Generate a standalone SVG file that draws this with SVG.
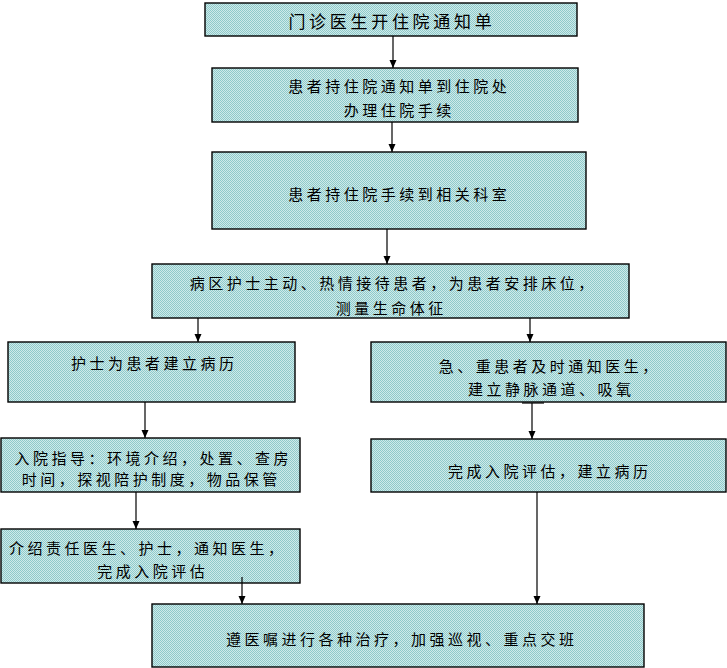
<svg xmlns="http://www.w3.org/2000/svg" width="727" height="668" viewBox="0 0 727 668">
<style>
.box{fill:url(#dots);stroke:#000;stroke-width:1.4}
.t{font-family:"Noto Sans CJK SC","Noto Sans CJK JP",sans-serif;font-size:15px;letter-spacing:3.5px;text-anchor:middle;dominant-baseline:central;fill:#000}
.title{font-size:17px;letter-spacing:3.7px}
.c{stroke:#000;stroke-width:1.2;fill:none}
</style>
<defs>
<pattern id="dots" patternUnits="userSpaceOnUse" width="2" height="2">
<rect width="2" height="2" fill="#cfeaea"/>
<rect width="1" height="1" fill="#8fcaca"/>
<rect x="1" y="1" width="1" height="1" fill="#8fcaca"/>
</pattern>
<marker id="ah" markerUnits="userSpaceOnUse" markerWidth="9" markerHeight="8" refX="8" refY="3.5" orient="auto">
<path d="M0,0 L8,3.5 L0,7 z" fill="#000"/>
</marker>
</defs>
<rect width="727" height="668" fill="#fff"/>
<g id="connectors">
<line class="c" x1="393" y1="36" x2="393" y2="68" marker-end="url(#ah)"/>
<line class="c" x1="392" y1="122" x2="392" y2="152" marker-end="url(#ah)"/>
<line class="c" x1="387" y1="229" x2="387" y2="264" marker-end="url(#ah)"/>
<line class="c" x1="198" y1="318" x2="198" y2="342" marker-end="url(#ah)"/>
<line class="c" x1="530" y1="318" x2="530" y2="342" marker-end="url(#ah)"/>
<line class="c" x1="145" y1="402" x2="145" y2="438" marker-end="url(#ah)"/>
<line class="c" x1="532" y1="403" x2="532" y2="439" marker-end="url(#ah)"/>
<line class="c" x1="522" y1="403" x2="544" y2="403" stroke-width="2"/>
<line class="c" x1="136" y1="492" x2="136" y2="529" marker-end="url(#ah)"/>
<line class="c" x1="242" y1="577" x2="242" y2="604" marker-end="url(#ah)"/>
<line class="c" x1="537" y1="492" x2="537" y2="604" marker-end="url(#ah)"/>
</g>
<g id="n1"><rect class="box" x="205" y="3" width="372" height="33"/>
<text class="t title" x="391.9" y="20">门诊医生开住院通知单</text></g>
<g id="n2"><rect class="box" x="212" y="68" width="366" height="54"/>
<text class="t" x="399.2" y="85">患者持住院通知单到住院处</text>
<text class="t" x="399.2" y="109.5">办理住院手续</text></g>
<g id="n3"><rect class="box" x="212" y="152" width="374" height="77"/>
<text class="t" x="399.2" y="193">患者持住院手续到相关科室</text></g>
<g id="n4"><rect class="box" x="152" y="264" width="477" height="54"/>
<text class="t" x="393.2" y="282">病区护士主动、热情接待患者，为患者安排床位，</text>
<text class="t" x="391.2" y="307">测量生命体征</text></g>
<g id="n5"><rect class="box" x="8" y="342" width="287" height="60"/>
<text class="t" x="154.2" y="362">护士为患者建立病历</text></g>
<g id="n6"><rect class="box" x="371" y="342" width="355" height="60"/>
<text class="t" x="549.7" y="365">急、重患者及时通知医生，</text>
<text class="t" x="551.2" y="388">建立静脉通道、吸氧</text></g>
<g id="n7"><rect class="box" x="1" y="438" width="299" height="54"/>
<text class="t" x="153.2" y="457">入院指导：环境介绍，处置、查房</text>
<text class="t" x="151.2" y="478">时间，探视陪护制度，物品保管</text></g>
<g id="n8"><rect class="box" x="371" y="439" width="355" height="53"/>
<text class="t" x="549.7" y="470">完成入院评估，建立病历</text></g>
<g id="n9"><rect class="box" x="1" y="529" width="299" height="54"/>
<text class="t" x="147.7" y="547">介绍责任医生、护士，通知医生，</text>
<text class="t" x="152.7" y="570">完成入院评估</text></g>
<g id="n10"><rect class="box" x="152" y="604" width="492" height="63"/>
<text class="t" x="401.7" y="638">遵医嘱进行各种治疗，加强巡视、重点交班</text></g>
<line class="c" x1="242" y1="577" x2="242" y2="583"/>
</svg>
